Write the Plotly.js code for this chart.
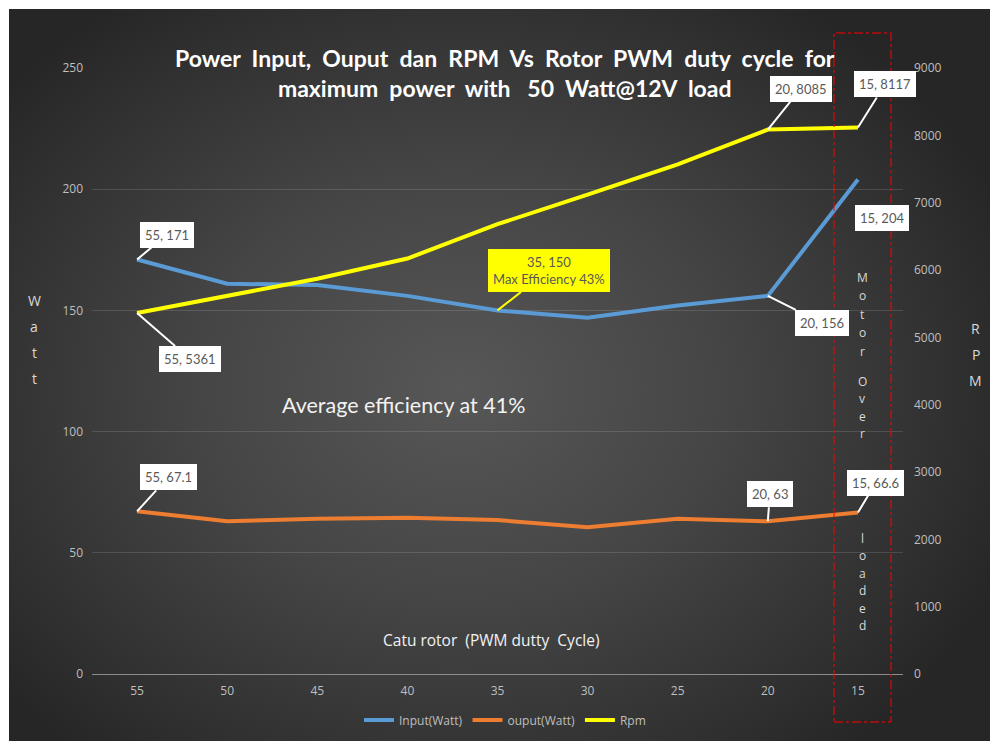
<!DOCTYPE html>
<html>
<head>
<meta charset="utf-8">
<script src="https://cdn.plot.ly/plotly-3.0.1.min.js"></script>
<style>
  html, body { margin:0; padding:0; background:#ffffff; }
  #wrap { position:relative; width:990px; height:741px; }
  #bg { position:absolute; left:9px; top:9px; width:981px; height:732px;
        background: radial-gradient(ellipse 60% 65% at 46% 52%, #575757 0%, #454545 45%, #2f2f2f 85%, #262626 100%); }
  #chart { position:absolute; left:0; top:0; width:990px; height:741px; }
</style>
</head>
<body>
<div id="wrap"><div id="bg"></div><div id="chart"></div></div>
<script>
// ---- data ----
const categories = ["55", "50", "45", "40", "35", "30", "25", "20", "15"];
const inputWatt  = [171, 161, 160.5, 156, 150, 147, 152, 156, 204];
const outputWatt = [67.1, 63, 64, 64.5, 63.5, 60.5, 64, 63, 66.6];
const rpm        = [5361, 5620, 5870, 6170, 6680, 7120, 7570, 8085, 8117];
const leftTicks  = [0, 50, 100, 150, 200, 250];
const rightTicks = [0, 1000, 2000, 3000, 4000, 5000, 6000, 7000, 8000, 9000];

const tickFont = {family: "Open Sans, DejaVu Sans, sans-serif", size: 12, color: "#bfbfbf"};
const calloutFont = {family: "Lato, Open Sans, sans-serif", size: 13, color: "#595959"};

const M = {l: 92, r: 87, t: 68, b: 67};
const W = 990, H = 741;
const plotH = H - M.t - M.b, plotW = W - M.l - M.r;
const px2x = p => (p - M.l) / plotW;
const px2y = p => (H - M.b - p) / plotH;

const traces = [
  {x: categories, y: inputWatt, name: "Input(Watt)", type: "scatter", mode: "lines",
   line: {color: "#5b9bd5", width: 4}, yaxis: "y"},
  {x: categories, y: outputWatt, name: "ouput(Watt)", type: "scatter", mode: "lines",
   line: {color: "#ed7d31", width: 4}, yaxis: "y"},
  {x: categories, y: rpm, name: "Rpm", type: "scatter", mode: "lines",
   line: {color: "#ffff00", width: 4}, yaxis: "y2"}
];

function callout(xi, yv, yref, text, ax, ay, bg) {
  return {x: xi, y: yv, xref: "x", yref: yref, text: text,
    showarrow: true, arrowhead: 0, arrowwidth: 2, arrowcolor: bg || "#ffffff",
    ax: ax, ay: ay, bgcolor: bg || "#ffffff", borderpad: 5, borderwidth: 0,
    font: calloutFont};
}

function stacked(word, xPx, y0Px, step, size) {
  const out = [];
  for (let i = 0; i < word.length; i++) {
    out.push({xref: "paper", yref: "paper", x: px2x(xPx), y: px2y(y0Px + i * step),
      text: word[i], showarrow: false, xanchor: "center", yanchor: "middle",
      font: {family: "Open Sans, sans-serif", size: size, color: "#d9d9d9"}});
  }
  return out;
}

const annotations = [
  // title
  {xref: "paper", yref: "paper", x: px2x(505), y: px2y(73), yanchor: "middle", xanchor: "center",
   text: "Power  Input,  Ouput  dan  RPM  Vs  Rotor  PWM  duty  cycle  for<br>maximum  power  with   50  Watt@12V  load",
   showarrow: false,
   font: {family: "Lato, Open Sans, sans-serif", size: 23, color: "#ffffff", weight: "bold"}},
  // x axis title inside plot
  {xref: "paper", yref: "paper", x: px2x(491), y: px2y(653), text: "Catu rotor  (PWM dutty  Cycle)", showarrow: false,
   font: {family: "Open Sans, sans-serif", size: 15.5, color: "#f2f2f2"}},
  // average efficiency
  {xref: "paper", yref: "paper", x: px2x(403), y: px2y(405), text: "Average efficiency at 41%", showarrow: false,
   font: {family: "Lato, Open Sans, sans-serif", size: 21.5, color: "#f2f2f2"}},
  // callouts
  callout(0, inputWatt[0], "y", "55, 171", 30, -25),
  callout(0, rpm[0], "y2", "55, 5361", 53, 46),
  callout(4, inputWatt[4], "y", "35, 150<br>Max Efficiency 43%", 51, -40, "#ffff00"),
  callout(7, rpm[7], "y2", "20, 8085", 33, -41),
  callout(8, rpm[8], "y2", "15, 8117", 27, -43),
  callout(8, inputWatt[8], "y", "15, 204", 24, 38),
  callout(7, inputWatt[7], "y", "20, 156", 54, 27),
  callout(0, outputWatt[0], "y", "55, 67.1", 31, -34),
  callout(7, outputWatt[7], "y", "20, 63", 2, -27),
  callout(8, outputWatt[8], "y", "15, 66.6", 18, -30)
].concat(
  stacked("Watt", 34, 300, 26, 14),
  stacked("RPM", 976, 328, 26, 14),
  stacked("Motor", 862, 277, 18.5, 12),
  stacked("Over", 862, 381, 17.5, 12),
  stacked("loaded", 862, 538, 17.5, 12)
);

const layout = {
  width: W, height: H,
  margin: M,
  paper_bgcolor: "rgba(0,0,0,0)", plot_bgcolor: "rgba(0,0,0,0)",
  showlegend: true,
  legend: {orientation: "h", x: px2x(505), xanchor: "center", yref: "container", y: (H - 720) / H, yanchor: "middle",
           font: {family: "Open Sans, sans-serif", size: 12, color: "#bfbfbf"}, bgcolor: "rgba(0,0,0,0)"},
  xaxis: {type: "category", categoryorder: "array", categoryarray: categories,
          range: [-0.5, categories.length - 0.5], autorange: false, dtick: 1, automargin: false,
          showgrid: false, showline: true, linecolor: "#8c8c8c", linewidth: 1,
          ticks: "", tickfont: tickFont, fixedrange: true, ticklabelstandoff: 6},
  yaxis: {range: [0, 250], tickvals: leftTicks, showgrid: true, gridcolor: "rgba(255,255,255,0.13)",
          zeroline: false, showline: false, ticks: "", tickfont: tickFont, ticklabelstandoff: 8, automargin: false},
  yaxis2: {range: [0, 9000], tickvals: rightTicks, overlaying: "y", side: "right", showgrid: false,
           zeroline: false, showline: false, ticks: "", tickfont: tickFont, ticklabelstandoff: 10, automargin: false},
  shapes: [
    {type: "rect", xref: "paper", yref: "paper", x0: px2x(834), x1: px2x(891), y0: px2y(722), y1: px2y(33),
     line: {color: "#ff0000", width: 1, dash: "dashdot"}, fillcolor: "rgba(0,0,0,0)"}
  ],
  annotations: annotations
};

Plotly.newPlot("chart", traces, layout, {displayModeBar: false, staticPlot: true});
</script>
</body>
</html>
